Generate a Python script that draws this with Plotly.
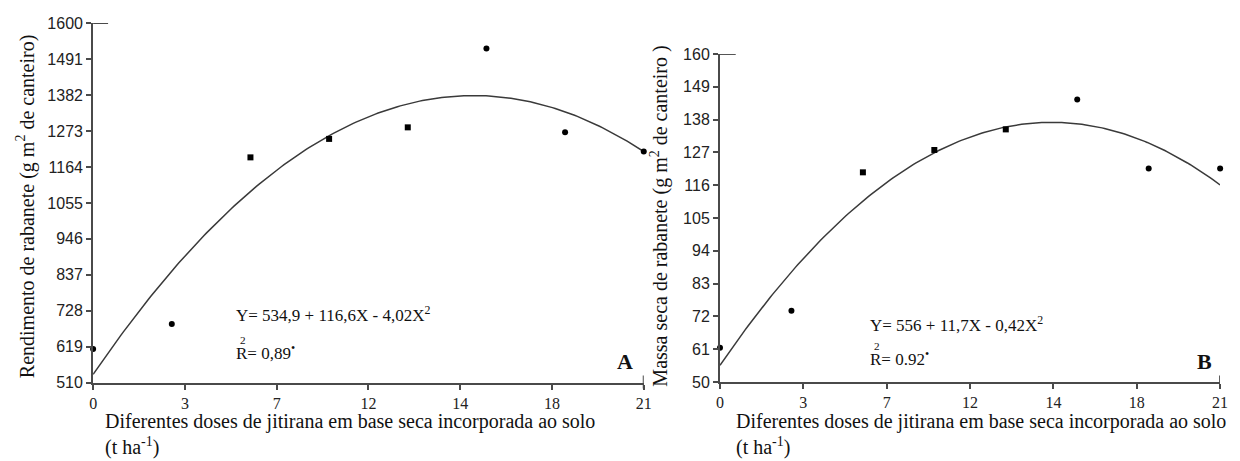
import numpy as np
import plotly.graph_objects as go

# ---- data ----
doses = [0, 3, 6, 9, 12, 15, 18, 21]
marker_symbols = ["circle", "circle", "square", "square", "square", "circle", "circle", "circle"]

rend_values = [612, 688, 1193, 1249, 1284, 1523, 1269, 1211]
massa_values = [61.5, 73.9, 120.3, 127.8, 134.7, 144.7, 121.6, 121.6]

# regression coefficients (as drawn)
coef_a = [534.9, 116.6, -4.02]
coef_b = [55.6, 11.7, -0.42]

x_tickvals = [0, 3.5, 7, 10.5, 14, 17.5, 21]
x_ticktext = ["0", "3", "7", "12", "14", "18", "21"]

y_ticks_a = [510, 619, 728, 837, 946, 1055, 1164, 1273, 1382, 1491, 1600]
y_ticks_b = [50, 61, 72, 83, 94, 105, 116, 127, 138, 149, 160]

W, H = 1240, 461
AX = "#4a4a4a"
SERIF = "Liberation Serif"
SANS = "Liberation Sans"

xs = np.linspace(0, 21, 200)
curve_a = coef_a[0] + coef_a[1] * xs + coef_a[2] * xs ** 2
curve_b = coef_b[0] + coef_b[1] * xs + coef_b[2] * xs ** 2

fig = go.Figure()
fig.add_trace(go.Scatter(x=xs, y=curve_a, mode="lines", line=dict(color="#3a3a3a", width=1.5),
                         xaxis="x", yaxis="y", showlegend=False, hoverinfo="skip"))
fig.add_trace(go.Scatter(x=doses, y=rend_values, mode="markers", cliponaxis=False,
                         marker=dict(color="black", size=6, symbol=marker_symbols),
                         xaxis="x", yaxis="y", showlegend=False))
fig.add_trace(go.Scatter(x=xs, y=curve_b, mode="lines", line=dict(color="#3a3a3a", width=1.5),
                         xaxis="x2", yaxis="y2", showlegend=False, hoverinfo="skip"))
fig.add_trace(go.Scatter(x=doses, y=massa_values, mode="markers", cliponaxis=False,
                         marker=dict(color="black", size=6, symbol=marker_symbols),
                         xaxis="x2", yaxis="y2", showlegend=False))

def xax(domain, anchor):
    return dict(domain=domain, anchor=anchor, range=[0, 21], tickvals=x_tickvals, ticktext=x_ticktext,
                showline=True, linecolor=AX, linewidth=2, ticks="outside", ticklen=5, tickwidth=1.5,
                tickcolor=AX, showgrid=False, zeroline=False,
                tickfont=dict(family=SERIF, size=16, color="#222"))

def yax(domain, anchor, rng, ticks):
    return dict(domain=domain, anchor=anchor, range=rng, tickvals=ticks,
                showline=True, linecolor=AX, linewidth=2, ticks="outside", ticklen=5, tickwidth=1.5,
                tickcolor=AX, showgrid=False, zeroline=False,
                tickfont=dict(family=SANS, size=16, color="#222"))

fig.update_layout(
    width=W, height=H, margin=dict(l=0, r=0, t=0, b=0),
    paper_bgcolor="white", plot_bgcolor="white",
    xaxis=xax([90 / W, 646 / W], "y"),
    yaxis=yax([(H - 389) / H, (H - 15.7) / H], "x", [510, 1600], y_ticks_a),
    xaxis2=xax([723 / W, 1228 / W], "y2"),
    yaxis2=yax([(H - 388.3) / H, (H - 47.7) / H], "x2", [50, 160], y_ticks_b),
)

# axis end caps
fig.add_shape(type="line", xref="x", yref="y", x0=-0.15, x1=0.57, y0=1600, y1=1600,
              line=dict(color=AX, width=2))
fig.add_shape(type="line", xref="x", yref="y domain", x0=21, x1=21, y0=-0.016, y1=0.02,
              line=dict(color=AX, width=2))
fig.add_shape(type="line", xref="x2", yref="y2", x0=-0.15, x1=0.66, y0=160, y1=160,
              line=dict(color=AX, width=2))
fig.add_shape(type="line", xref="x2", yref="y2 domain", x0=21, x1=21, y0=-0.016, y1=0.02,
              line=dict(color=AX, width=2))

def ann(text, x, y, size=15, xanchor="left", yanchor="middle", angle=0, bold=False, align="left"):
    fig.add_annotation(text=("<b>%s</b>" % text) if bold else text, x=x / W, y=(H - y) / H,
                       xref="paper", yref="paper", showarrow=False, xanchor=xanchor, yanchor=yanchor,
                       textangle=angle, align=align, borderpad=0,
                       font=dict(family=SERIF, size=size, color="#111"))

# axis titles
ann("Rendimento de rabanete (g m<sup>2</sup> de canteiro)", 22, 206, size=20, xanchor="center", angle=-90)
ann("Massa seca de rabanete (g m<sup>2</sup> de canteiro )", 661, 216, size=20, xanchor="center", angle=-90)
ann("Diferentes doses de jitirana em base seca incorporada ao solo<br>(t ha<sup>-1</sup>)", 101, 416, size=20,
    yanchor="top")
ann("Diferentes doses de jitirana em base seca incorporada ao solo<br>(t ha<sup>-1</sup>)", 738, 416, size=20,
    yanchor="top")

# equations
ann("Y= 534,9 + 116,6X - 4,02X<sup>2</sup>", 233, 318, size=17)
ann("<sup>2</sup>", 237, 345, size=16)
ann("R= 0,89<sup>•</sup>", 233, 357, size=17)
ann("Y= 556 + 11,7X - 0,42X<sup>2</sup>", 873, 328, size=17)
ann("<sup>2</sup>", 877, 351, size=16)
ann("R= 0.92<sup>•</sup>", 873, 363, size=17)

ann("A", 627, 367, size=22, xanchor="center", bold=True)
ann("B", 1212, 367, size=22, xanchor="center", bold=True)

fig.write_html("out.html")
